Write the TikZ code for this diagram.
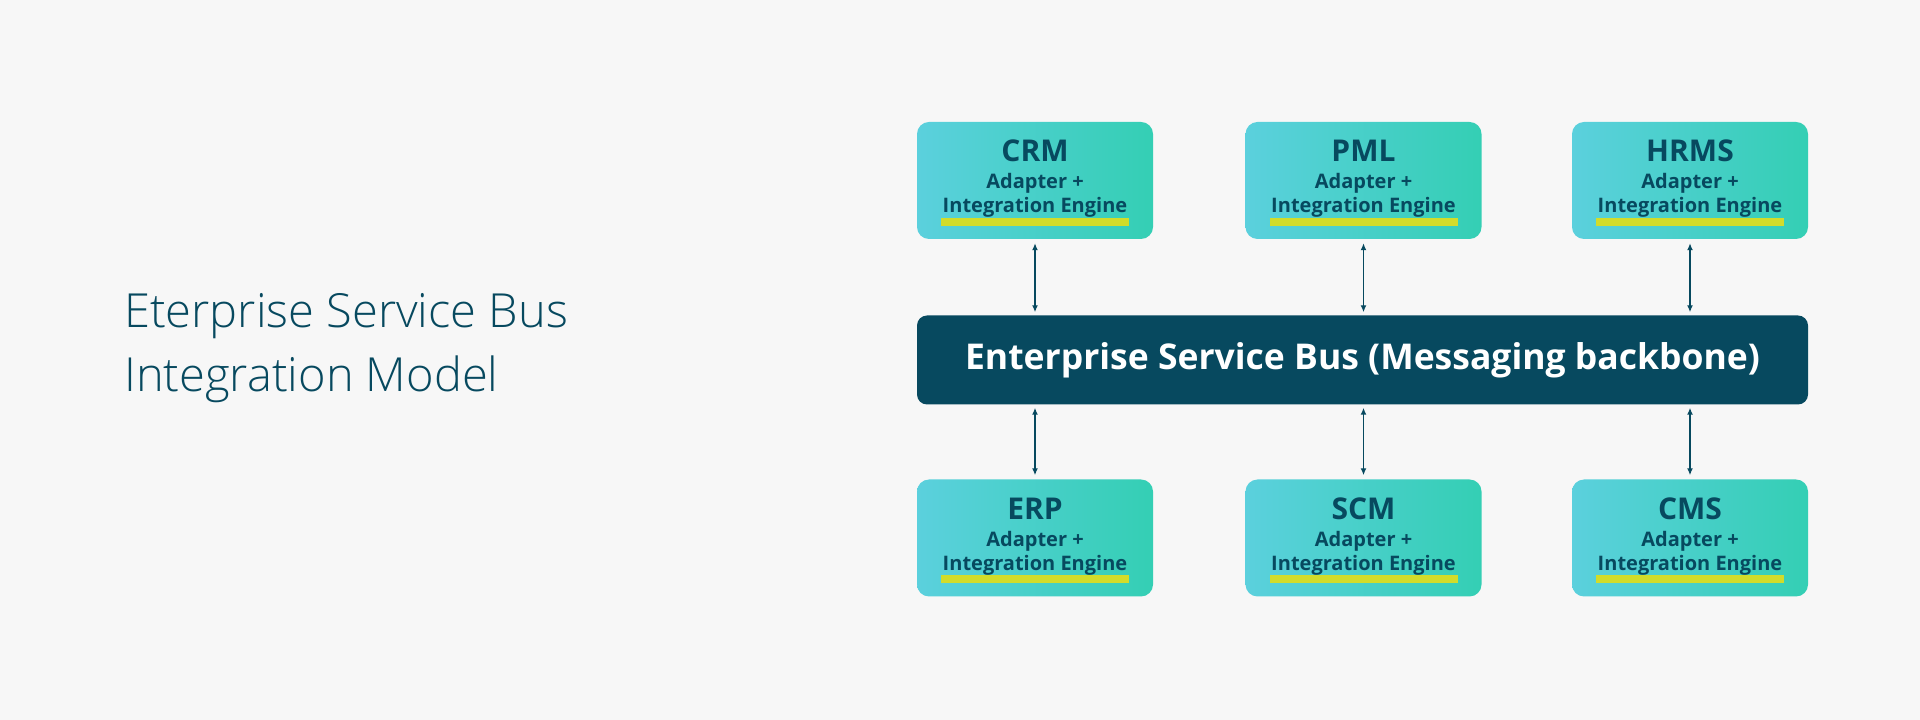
\documentclass[tikz,border=0pt]{standalone}
\usepackage{fontspec}
\setmainfont{Open Sans}
\newfontfamily\titlefont{Open Sans Light}
\usetikzlibrary{arrows.meta,positioning}

\definecolor{bgcol}{HTML}{F7F7F7}
\definecolor{esbdark}{HTML}{07495F}
\definecolor{boxleft}{HTML}{5BD0DD}
\definecolor{boxright}{HTML}{34CFB4}
\definecolor{hlyellow}{HTML}{D2DC2A}

\tikzset{
  sysbox/.style={rounded corners=12pt, left color=boxleft, right color=boxright,
    minimum width=236pt, minimum height=117pt, inner sep=0pt},
  systitle/.style={anchor=base, text=esbdark, font=\fontsize{30}{30}\selectfont\bfseries, inner sep=0pt},
  sysline/.style={anchor=base, text=esbdark, font=\fontsize{20}{20}\selectfont\bfseries, inner sep=0pt},
  link/.style={draw=esbdark, line width=1.5pt, {Latex[length=7pt,width=6pt]}-{Latex[length=7pt,width=6pt]},
    shorten <=4pt, shorten >=3pt},
}

% one system box: name, x, y, title
\newcommand\sysnode[4]{%
  \node[sysbox] (#1) at (#2,#3) {};
  \node[systitle] (#1-t) at ([yshift=18.5pt]#1.center) {#4};
  \node[sysline] (#1-a) at ([yshift=-8.5pt]#1.center) {Adapter +};
  \fill[hlyellow] ([xshift=-94pt,yshift=-37.5pt]#1.center) rectangle ([xshift=94pt,yshift=-45.5pt]#1.center);
  \node[sysline] (#1-e) at ([yshift=-32.5pt]#1.center) {Integration Engine};
}

\begin{document}
\begin{tikzpicture}[x=1pt,y=1pt]
  \fill[bgcol] (0,0) rectangle (1920,720);
  \useasboundingbox (0,0) rectangle (1920,720);

  \node[anchor=base west, text=esbdark, font=\titlefont\fontsize{47}{66}\selectfont, inner sep=0pt] (title1) at (124,392) {Eterprise Service Bus};
  \node[anchor=base west, text=esbdark, font=\titlefont\fontsize{47}{66}\selectfont, inner sep=0pt] (title2) at (124,328) {Integration Model};

  \node[rounded corners=10pt, fill=esbdark, minimum width=891pt, minimum height=89pt, inner sep=0pt,
    text=white, font=\fontsize{35.5}{40}\selectfont\bfseries] (bus) at (1362.5,360) {Enterprise Service Bus (Messaging backbone)};

  \sysnode{crm}{1035}{539.5}{CRM}
  \sysnode{pml}{1363.5}{539.5}{PML}
  \sysnode{hrms}{1690}{539.5}{HRMS}
  \sysnode{erp}{1035}{182}{ERP}
  \sysnode{scm}{1363.5}{182}{SCM}
  \sysnode{cms}{1690}{182}{CMS}

  \draw[link] (crm.south) -- (crm.south |- bus.north);
  \draw[link] (pml.south) -- (pml.south |- bus.north);
  \draw[link] (hrms.south) -- (hrms.south |- bus.north);
  \draw[link] (erp.north) -- (erp.north |- bus.south);
  \draw[link] (scm.north) -- (scm.north |- bus.south);
  \draw[link] (cms.north) -- (cms.north |- bus.south);
\end{tikzpicture}
\end{document}
